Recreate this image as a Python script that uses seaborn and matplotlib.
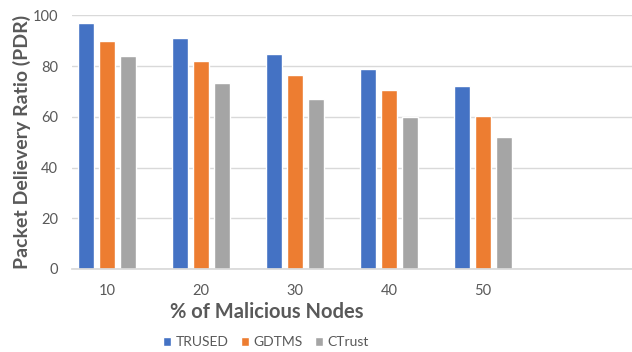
import matplotlib
matplotlib.use("Agg")
import matplotlib.pyplot as plt
import seaborn as sns
import pandas as pd

# Packet delivery ratio for each scheme at each share of malicious nodes
malicious_pct = ["10", "20", "30", "40", "50"]
trused = [97, 91, 85, 79, 72]
gdtms = [90, 82, 76.5, 70.5, 60.5]
ctrust = [84, 73.5, 67, 60, 52]
schemes = ["TRUSED", "GDTMS", "CTrust"]
colors = ["#4472C4", "#ED7D31", "#A5A5A5"]

df = pd.DataFrame({
    "pct": malicious_pct * 3,
    "pdr": trused + gdtms + ctrust,
    "scheme": [s for s in schemes for _ in malicious_pct],
})

sns.set_theme(style="white")
plt.rcParams["font.family"] = ["Lato", "DejaVu Sans"]

fig = plt.figure(figsize=(6.32, 3.52), dpi=100)
ax = fig.add_axes([0.1139, 0.2358, 0.8861, 0.7202])

sns.barplot(data=df, x="pct", y="pdr", hue="scheme", palette=colors,
            saturation=1, width=0.67, gap=0.2, order=malicious_pct,
            hue_order=schemes, ax=ax, legend=True)

ax.set_ylim(0, 100)
ax.set_xlim(-0.372, 5.585)
ax.set_yticks([0, 20, 40, 60, 80, 100])
ax.yaxis.grid(True, color="#D9D9D9", linewidth=1)
ax.set_axisbelow(True)
for s in ["top", "right", "left"]:
    ax.spines[s].set_visible(False)
ax.spines["bottom"].set_color("#D9D9D9")
ax.tick_params(axis="both", length=0, colors="#595959", labelsize=10.5)
ax.tick_params(axis="y", pad=10)
ax.tick_params(axis="x", pad=11)

ax.set_xlabel("")
ax.set_ylabel("")
fig.text(267 / 632, 1 - 312 / 352, "% of Malicious Nodes", ha="center", va="center",
         fontsize=14.5, fontweight="bold", color="#595959")
fig.text(22 / 632, 1 - 142 / 352, "Packet Delievery Ratio (PDR)", ha="center", va="center",
         rotation=90, fontsize=14, fontweight="bold", color="#595959")

handles, labels = ax.get_legend_handles_labels()
ax.legend_.remove()
fig.legend(handles, labels, loc="center", bbox_to_anchor=(266 / 632, 1 - 342 / 352),
           ncol=3, frameon=False, fontsize=10, labelcolor="#595959",
           handlelength=0.6, handleheight=0.6, handletextpad=0.3, columnspacing=0.9)

fig.savefig("out.png", dpi=100)
